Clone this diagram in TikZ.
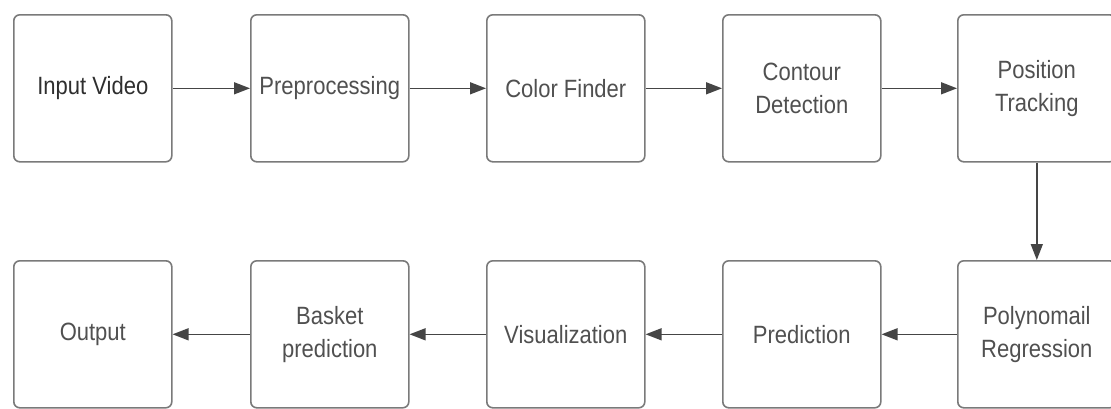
\documentclass[tikz,border=0pt]{standalone}
\usepackage{fontspec}
\setmainfont{Liberation Sans}[FakeStretch=0.88]
\usetikzlibrary{arrows.meta}
\definecolor{boxline}{HTML}{7A7A7A}
\definecolor{txt}{HTML}{505050}
\definecolor{txtdark}{HTML}{2E2E2E}
\definecolor{arr}{HTML}{454545}
\tikzset{
  stepbox/.style={draw=boxline, line width=1.6pt, rounded corners=6pt, fill=white,
    minimum width=158pt, minimum height=147pt, anchor=north west, align=center,
    text=txt, font=\fontsize{25pt}{33pt}\selectfont, inner sep=0pt},
  flow/.style={draw=arr, line width=1.5pt, -{Triangle[length=16pt,width=12pt]}}
}
\begin{document}
\begin{tikzpicture}[x=1pt,y=-1pt]
\useasboundingbox (0,0) rectangle (1111,408);
\clip (0,0) rectangle (1111,408);
\fill[white] (0,0) rectangle (1111,408);
% top row
\node[stepbox, text=txtdark] (n1) at (13,14) {Input Video};
\node[stepbox] (n2) at (250,14) {Preprocessing};
\node[stepbox] (n3) at (486,14) {Color Finder};
\node[stepbox] (n4) at (722,14) {Contour\\Detection};
\node[stepbox] (n5) at (957,14) {Position\\Tracking};
% bottom row
\node[stepbox] (m5) at (957,260) {Polynomail\\Regression};
\node[stepbox] (m4) at (722,260) {Prediction};
\node[stepbox] (m3) at (486,260) {Visualization};
\node[stepbox] (m2) at (250,260) {Basket\\prediction};
\node[stepbox] (m1) at (13,260) {Output};
% connectors
\draw[flow] (n1.east) -- (n2.west);
\draw[flow] (n2.east) -- (n3.west);
\draw[flow] (n3.east) -- (n4.west);
\draw[flow] (n4.east) -- (n5.west);
\draw[flow] (n5.south) -- (m5.north);
\draw[flow] (m5.west) -- (m4.east);
\draw[flow] (m4.west) -- (m3.east);
\draw[flow] (m3.west) -- (m2.east);
\draw[flow] (m2.west) -- (m1.east);
\end{tikzpicture}
\end{document}
